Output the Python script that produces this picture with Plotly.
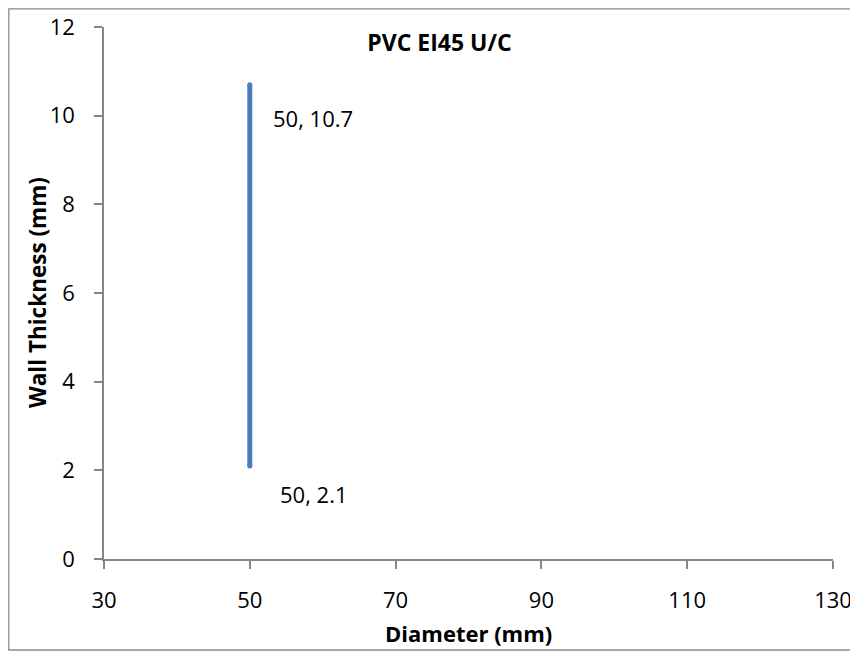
import plotly.graph_objects as go

diameter = [50, 50]
wall_thickness = [2.1, 10.7]
label_text = ["50, 2.1", "50, 10.7"]
x_ticks = [30, 50, 70, 90, 110, 130]
y_ticks = [0, 2, 4, 6, 8, 10, 12]

FONT = "Open Sans"
AX = "#868686"
SZ = 22

fig = go.Figure()
fig.add_trace(go.Scatter(
    x=diameter, y=wall_thickness, mode="lines+markers",
    line=dict(color="#4A7EBB", width=5),
    marker=dict(color="#4A7EBB", size=5, line=dict(width=0)),
    showlegend=False, hoverinfo="skip",
))

for xv, yv, t, xs, ys in zip(diameter, wall_thickness, label_text, [28, 21], [-28, -33]):
    fig.add_annotation(x=xv, y=yv, text=t, showarrow=False, xanchor="left",
                       yanchor="middle", xshift=xs, yshift=ys,
                       font=dict(family=FONT, size=SZ, color="#000000"))

# axis titles
fig.add_annotation(xref="paper", yref="paper", x=0.5, y=0, yshift=-74,
                   xanchor="center", yanchor="middle", showarrow=False,
                   text="<b>Diameter (mm)</b>",
                   font=dict(family=FONT, size=22, color="#000000"))
fig.add_annotation(xref="paper", yref="paper", x=0, y=0.5, xshift=-67,
                   xanchor="center", yanchor="middle", showarrow=False,
                   textangle=-90, text="<b>Wall Thickness (mm)</b>",
                   font=dict(family=FONT, size=22.5, color="#000000"))

W, H = 850, 643
fig.update_layout(
    width=W, height=H,
    margin=dict(l=96, r=25, t=19, b=92),
    paper_bgcolor="white", plot_bgcolor="white",
    font=dict(family=FONT, color="#000000"),
    title=dict(text="<b>PVC EI45 U/C</b>", x=431.5 / W, xanchor="center",
               y=1 - 34.5 / H, yanchor="middle",
               font=dict(family=FONT, size=23, color="#000000")),
    xaxis=dict(range=[30, 130], tickvals=x_ticks, showgrid=False, zeroline=False,
               showline=True, linecolor=AX, linewidth=1.5, automargin=False,
               ticks="outside", ticklen=8, tickcolor=AX, tickwidth=1.5,
               ticklabelstandoff=13, ticklabeloverflow="allow",
               tickfont=dict(family=FONT, size=SZ, color="#000000")),
    yaxis=dict(range=[0, 12], tickvals=y_ticks, showgrid=False, zeroline=False,
               showline=True, linecolor=AX, linewidth=1.5, automargin=False,
               ticks="outside", ticklen=8, tickcolor=AX, tickwidth=1.5,
               ticklabelstandoff=15, ticklabeloverflow="allow",
               tickfont=dict(family=FONT, size=SZ, color="#000000")),
)

# outer chart border
fig.add_shape(type="rect", xref="paper", yref="paper",
              x0=(0.8 - 96) / 729, x1=(849 - 96) / 729,
              y0=(551 - 642) / 532, y1=(551 - 0.8) / 532,
              line=dict(color="#8a8a8a", width=1.3), fillcolor="rgba(0,0,0,0)",
              layer="below")

fig.write_html("out.html")
